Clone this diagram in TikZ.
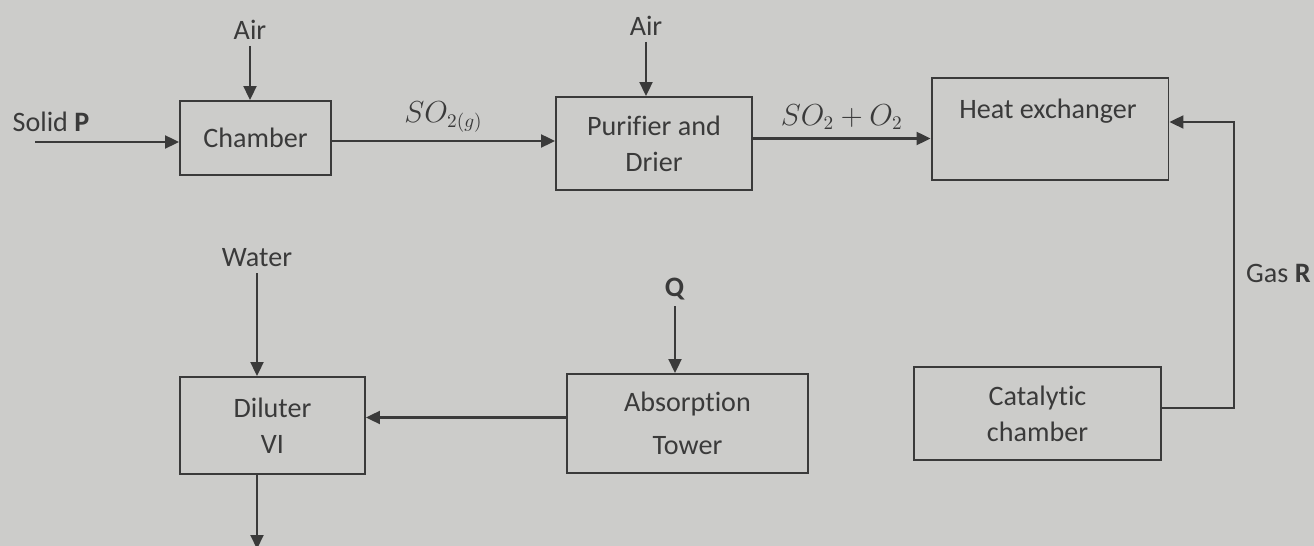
\documentclass[tikz,border=0pt]{standalone}
\usepackage{fontspec}
\setmainfont{Carlito}[Ligatures=NoCommon]
\usetikzlibrary{positioning, calc, arrows.meta}

\definecolor{paper}{RGB}{204,204,202}
\definecolor{ink}{RGB}{58,58,58}

\begin{document}
\begin{tikzpicture}[
    x=0.02cm, y=-0.02cm,
    unit/.style={
        draw=ink,
        line width=1.1pt,
        text=ink,
        align=center,
        inner sep=0pt
    },
    lbl/.style={text=ink},
    flow/.style={
        -{Triangle[length=2.8mm, width=2.6mm]},
        draw=ink,
        line width=1.2pt
    },
    font=\fontsize{16}{20.5}\selectfont
]

% page
\clip (0,0) rectangle (1314,546);
\fill[paper] (0,0) rectangle (1314,546);

% process units
\node[unit, minimum width=3.02cm, minimum height=1.48cm] (chamber) at (255.5,138) {Chamber};
\node[unit, minimum width=3.92cm, minimum height=1.86cm] (purifier) at (654,143.5) {Purifier and\\Drier};
\node[unit, minimum width=4.74cm, minimum height=2.04cm] (hx) at (1050,129) {};
\node[lbl] (hxtext) at ($(hx.north)+(-2,34)$) {Heat exchanger};
\node[unit, minimum width=4.94cm, minimum height=1.86cm] (catalytic) at (1037.5,413.5) {Catalytic\\chamber};
\node[unit, minimum width=4.82cm, minimum height=1.98cm] (absorber) at (687.5,423.5) {Absorption\\[4pt]Tower};
\node[unit, minimum width=3.70cm, minimum height=1.94cm] (diluter) at (272.5,425.5) {Diluter\\VI};

% feeds
\node[lbl] (solid) at (51,122) {Solid \textbf{P}};
\coordinate (solidin) at (35,142);
\node[lbl] (air1) at (250,30) {Air};
\node[lbl] (air2) at (646,26) {Air};
\node[lbl] (water) at (257,258) {Water};
\node[lbl] (q) at (675,289) {\textbf{Q}};
\node[lbl, anchor=west] (gasr) at (1240,273) {Gas \textbf{R}};
\coordinate (acidout) at (257,549);

% connections
\draw[flow] (solidin) -- (solidin -| chamber.west);
\draw[flow] (air1) -- (air1 |- chamber.north);
\draw[flow] ($(chamber.east)+(0,3)$) -- node[lbl, above=1pt] {$SO_{2(g)}$} ($(chamber.east -| purifier.west)+(0,3)$);
\draw[flow] (air2) -- (air2 |- purifier.north);
\draw[flow] ($(purifier.east)+(0,-5)$) -- node[lbl, above=1pt] {$SO_2+O_2$} ($(purifier.east -| hx.west)+(0,-5)$);
\draw[flow] ($(catalytic.east)+(0,-5.5)$) -- ++(72,0) |- ($(hx.east)+(0,-7)$);
\draw[flow] (q) -- (q |- absorber.north);
\draw[flow] ($(absorber.west)+(0,-6)$) -- ($(absorber.west -| diluter.east)+(0,-6)$);
\draw[flow] (water) -- (water |- diluter.north);
\draw[flow] (diluter.south -| acidout) -- (acidout);

\end{tikzpicture}
\end{document}
